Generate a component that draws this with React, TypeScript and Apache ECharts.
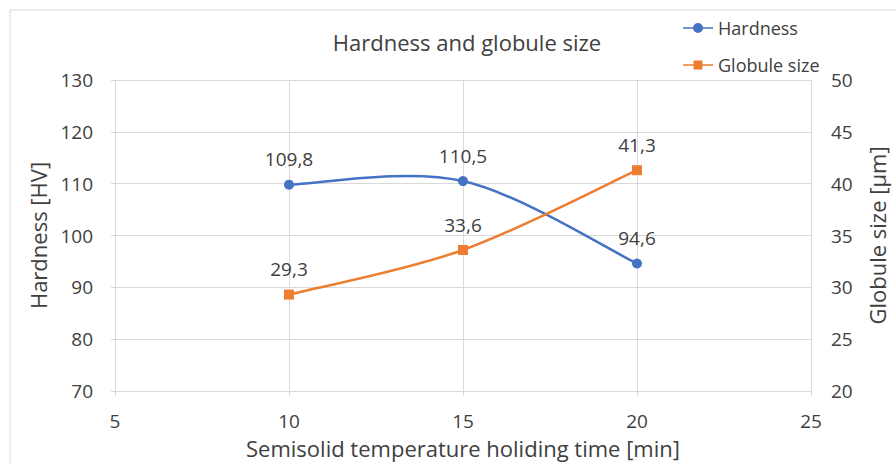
import React, { useEffect, useRef } from "react";
import * as echarts from "echarts";

const times = [10, 15, 20];
const hardness = [109.8, 110.5, 94.6];
const globuleSize = [29.3, 33.6, 41.3];

const FONT = "'Open Sans', sans-serif";
const TXT = "#404040";
const GRID = "#d9d9d9";
const BLUE = "#4472c4";
const ORANGE = "#ed7d31";

const ICON_CIRCLE =
  "path://M0,4.2 L30,4.2 L30,5.8 L0,5.8 Z M10,5 A5,5 0 1,1 20,5 A5,5 0 1,1 10,5 Z";
const ICON_SQUARE =
  "path://M0,4.2 L30,4.2 L30,5.8 L0,5.8 Z M10.5,0.5 L19.5,0.5 L19.5,9.5 L10.5,9.5 Z";

function makeCurve(xs: number[], ys: number[], color: string) {
  return (params: any, api: any) => {
    const i = params.dataIndex;
    if (i >= xs.length - 1) return null;
    const P = xs.map((x, j) => api.coord([x, ys[j]]));
    const p0 = P[i];
    const p1 = P[i + 1];
    const pm = P[i - 1] || p0;
    const pn = P[i + 2] || p1;
    const t = 1 / 6;
    return {
      type: "bezierCurve",
      shape: {
        x1: p0[0],
        y1: p0[1],
        x2: p1[0],
        y2: p1[1],
        cpx1: p0[0] + (p1[0] - pm[0]) * t,
        cpy1: p0[1] + (p1[1] - pm[1]) * t,
        cpx2: p1[0] - (pn[0] - p0[0]) * t,
        cpy2: p1[1] - (pn[1] - p0[1]) * t,
      },
      style: { stroke: color, lineWidth: 2.5, fill: "none" },
    };
  };
}

export default function App() {
  const ref = useRef<HTMLDivElement>(null);
  useEffect(() => {
    if (!ref.current) return;
    const chart = echarts.init(ref.current, undefined, { renderer: "svg" });
    const fmt = (p: any) => String(p.value[1]).replace(".", ",");
    const legendText = { fontFamily: FONT, fontSize: 18, color: TXT, padding: [0, 0, 0, 0] };
    chart.setOption({
      animation: false,
      backgroundColor: "#ffffff",
      textStyle: { fontFamily: FONT },
      title: {
        text: "Hardness and globule size",
        left: 462,
        top: 26,
        textAlign: "center",
        textStyle: { fontFamily: FONT, fontSize: 22, fontWeight: "normal", color: TXT },
      },
      legend: [
        {
          left: 683,
          top: 19,
          padding: 0,
          itemGap: 0,
          itemWidth: 30,
          itemHeight: 10,
          textStyle: legendText,
          data: [{ name: "Hardness", icon: ICON_CIRCLE }],
        },
        {
          left: 683,
          top: 56,
          padding: 0,
          itemGap: 0,
          itemWidth: 30,
          itemHeight: 10,
          textStyle: legendText,
          data: [{ name: "Globule size", icon: ICON_SQUARE }],
        },
      ],
      graphic: [
        {
          type: "rect",
          shape: { x: 10, y: 10, width: 1000, height: 1000 },
          style: { fill: "none", stroke: GRID, lineWidth: 1 },
          silent: true,
        },
      ],
      grid: { left: 115, right: 84, top: 80, bottom: 71 },
      xAxis: {
        type: "value",
        min: 5,
        max: 25,
        interval: 5,
        name: "Semisolid temperature holiding time [min]",
        nameLocation: "middle",
        nameGap: 46,
        nameTextStyle: { fontFamily: FONT, fontSize: 22, color: TXT },
        axisLine: { show: true, lineStyle: { color: GRID } },
        axisTick: { show: true, length: 5, lineStyle: { color: GRID } },
        axisLabel: { fontFamily: FONT, fontSize: 19, color: TXT, margin: 20 },
        splitLine: { show: true, lineStyle: { color: GRID } },
      },
      yAxis: [
        {
          type: "value",
          min: 70,
          max: 130,
          interval: 10,
          name: "Hardness [HV]",
          nameLocation: "middle",
          nameGap: 66,
          nameTextStyle: { fontFamily: FONT, fontSize: 22, color: TXT },
          axisLine: { show: true, lineStyle: { color: GRID } },
          axisTick: { show: true, length: 4, lineStyle: { color: GRID } },
          axisLabel: { fontFamily: FONT, fontSize: 19, color: TXT, margin: 22 },
          splitLine: { show: true, lineStyle: { color: GRID } },
        },
        {
          type: "value",
          min: 20,
          max: 50,
          interval: 5,
          name: "Globule size [µm]",
          nameLocation: "middle",
          nameGap: 55,
          nameTextStyle: { fontFamily: FONT, fontSize: 22, color: TXT },
          axisLine: { show: false },
          axisTick: { show: false },
          axisLabel: { fontFamily: FONT, fontSize: 19, color: TXT, margin: 20 },
          splitLine: { show: false },
        },
      ],
      series: [
        {
          name: "Hardness curve",
          type: "custom",
          yAxisIndex: 0,
          z: 1,
          data: times.map((t, i) => [t, hardness[i]]),
          renderItem: makeCurve(times, hardness, BLUE),
          silent: true,
        },
        {
          name: "Globule size curve",
          type: "custom",
          yAxisIndex: 1,
          z: 1,
          data: times.map((t, i) => [t, globuleSize[i]]),
          renderItem: makeCurve(times, globuleSize, ORANGE),
          silent: true,
        },
        {
          name: "Hardness",
          type: "line",
          yAxisIndex: 0,
          z: 3,
          data: times.map((t, i) => [t, hardness[i]]),
          symbol: "circle",
          symbolSize: 10,
          itemStyle: { color: BLUE },
          lineStyle: { width: 0, opacity: 0 },
          label: {
            show: true,
            position: "top",
            distance: 11,
            formatter: fmt,
            fontFamily: FONT,
            fontSize: 19,
            color: TXT,
          },
        },
        {
          name: "Globule size",
          type: "line",
          yAxisIndex: 1,
          z: 3,
          data: times.map((t, i) => [t, globuleSize[i]]),
          symbol: "rect",
          symbolSize: 10,
          itemStyle: { color: ORANGE },
          lineStyle: { width: 0, opacity: 0 },
          label: {
            show: true,
            position: "top",
            distance: 11,
            formatter: fmt,
            fontFamily: FONT,
            fontSize: 19,
            color: TXT,
          },
        },
      ],
    });
    return () => chart.dispose();
  }, []);
  return (
    <div
      ref={ref}
      style={{ position: "fixed", left: 0, top: 0, width: 896, height: 464 }}
    />
  );
}
